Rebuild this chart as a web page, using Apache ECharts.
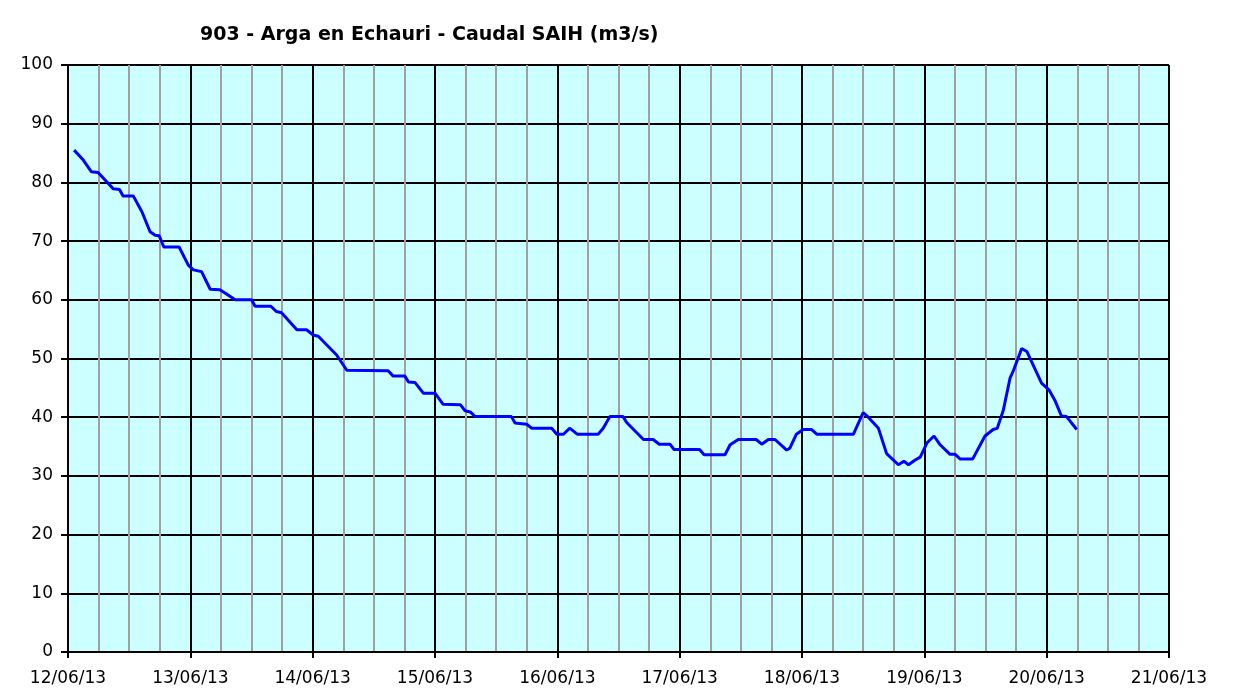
<!DOCTYPE html>
<html>
<head>
<meta charset="utf-8">
<script src="https://cdn.jsdelivr.net/npm/echarts@6/dist/echarts.min.js"></script>
<style>
  html, body { margin: 0; padding: 0; background: #fff; }
  #chart { width: 1246px; height: 688px; }
</style>
</head>
<body>
<div id="chart"></div>
<script>
// hours since 12/06/13 00:00 and the flow read at that moment (m3/s)
var hours = [1.2, 3.0, 4.6, 5.9, 7.6, 8.9, 10.1, 10.8, 12.8, 14.5, 16.1, 17.1, 17.9, 18.8, 21.8, 23.6,
    24.6, 26.2, 27.9, 29.8, 31.1, 32.8, 36.0, 36.7, 39.8, 40.9, 41.9, 44.9, 46.8, 48.1, 49.1, 52.7,
    54.7, 62.8, 63.8, 66.1, 66.8, 68.1, 69.7, 72.0, 73.6, 77.0, 77.9, 78.9, 79.9, 87.0, 87.7, 90.0,
    91.0, 94.9, 95.9, 97.2, 98.4, 98.8, 99.9, 104.0, 105.0, 106.3, 108.9, 109.6, 112.9, 114.8, 116.0,
    118.1, 118.9, 123.9, 124.8, 128.9, 129.9, 131.5, 135.0, 136.1, 137.4, 138.7, 141.0, 141.6, 142.9,
    144.2, 145.9, 146.9, 154.1, 156.0, 157.0, 159.0, 160.6, 162.9, 164.0, 164.9, 166.2, 167.2, 168.5,
    169.9, 171.1, 173.0, 174.0, 175.0, 177.5, 179.9, 181.5, 182.3, 183.5, 184.8, 185.5, 187.1, 188.1,
    191.0, 192.5, 193.6, 194.9, 195.9, 197.9];
var caudal = [85.5, 83.8, 81.8, 81.7, 80.1, 78.9, 78.8, 77.7, 77.7, 75.0, 71.6, 71.0, 70.9, 69.0, 69.0, 65.9,
    65.1, 64.8, 61.8, 61.7, 61.0, 60.0, 60.0, 58.9, 58.9, 58.0, 57.8, 54.9, 54.9, 54.0, 53.8, 50.6,
    48.0, 47.9, 47.0, 47.0, 46.0, 45.9, 44.1, 44.1, 42.2, 42.1, 41.1, 40.9, 40.1, 40.1, 39.0, 38.8,
    38.1, 38.1, 37.1, 37.1, 38.1, 37.9, 37.1, 37.1, 38.1, 40.1, 40.1, 39.1, 36.2, 36.2, 35.4,
    35.4, 34.5, 34.5, 33.6, 33.6, 35.3, 36.2, 36.2, 35.4, 36.2, 36.2, 34.4, 34.7, 37.1,
    37.9, 37.9, 37.1, 37.1, 40.8, 40.0, 38.1, 33.8, 31.9, 32.5, 31.9, 32.7, 33.2, 35.6,
    36.8, 35.3, 33.7, 33.7, 32.9, 32.9, 36.8, 37.9, 38.1, 41.2, 46.6, 48.0, 51.7, 51.2,
    45.8, 44.6, 42.9, 40.2, 40.1, 37.9];
var days = ['12/06/13', '13/06/13', '14/06/13', '15/06/13', '16/06/13', '17/06/13', '18/06/13',
    '19/06/13', '20/06/13', '21/06/13'];

var points = [];
for (var i = 0; i < hours.length; i++) {
    points.push([hours[i], caudal[i]]);
}

var font = 'DejaVu Sans';
var chart = echarts.init(document.getElementById('chart'));
var options = {
    backgroundColor: '#ffffff',
    animation: false,
    title: {
        text: '903 - Arga en Echauri - Caudal SAIH (m3/s)',
        left: 195,
        top: 21,
        textStyle: { fontFamily: font, fontSize: 19, fontWeight: 'bold', color: '#000' }
    },
    grid: {
        left: 68, right: 77, top: 65, bottom: 36,
        show: true,
        backgroundColor: '#ccffff',
        borderColor: '#000',
        borderWidth: 1
    },
    xAxis: {
        type: 'value',
        min: 0,
        max: 216,
        interval: 24,
        axisLine: { lineStyle: { color: '#000', width: 2 } },
        axisTick: { length: 6, lineStyle: { color: '#000', width: 2 } },
        axisLabel: {
            margin: 18,
            color: '#000',
            fontFamily: font,
            fontSize: 17,
            formatter: function (v) { return days[Math.round(v / 24)]; }
        },
        splitLine: { show: true, lineStyle: { color: '#000', width: 2 } },
        minorTick: { show: false, splitNumber: 4 },
        minorSplitLine: { show: true, lineStyle: { color: '#a0a0a0', width: 2 } }
    },
    yAxis: {
        type: 'value',
        min: 0,
        max: 100,
        interval: 10,
        axisLine: { show: true, lineStyle: { color: '#000', width: 2 } },
        axisTick: { show: true, length: 7, lineStyle: { color: '#000', width: 2 } },
        axisLabel: { margin: 15, color: '#000', fontFamily: font, fontSize: 17 },
        splitLine: { show: true, lineStyle: { color: '#000', width: 2 } }
    },
    series: [{
        name: 'Caudal',
        type: 'line',
        data: points,
        showSymbol: false,
        lineStyle: { color: '#0000ff', width: 3 },
        z: 5
    }]
};
chart.setOption(options);
</script>
</body>
</html>
